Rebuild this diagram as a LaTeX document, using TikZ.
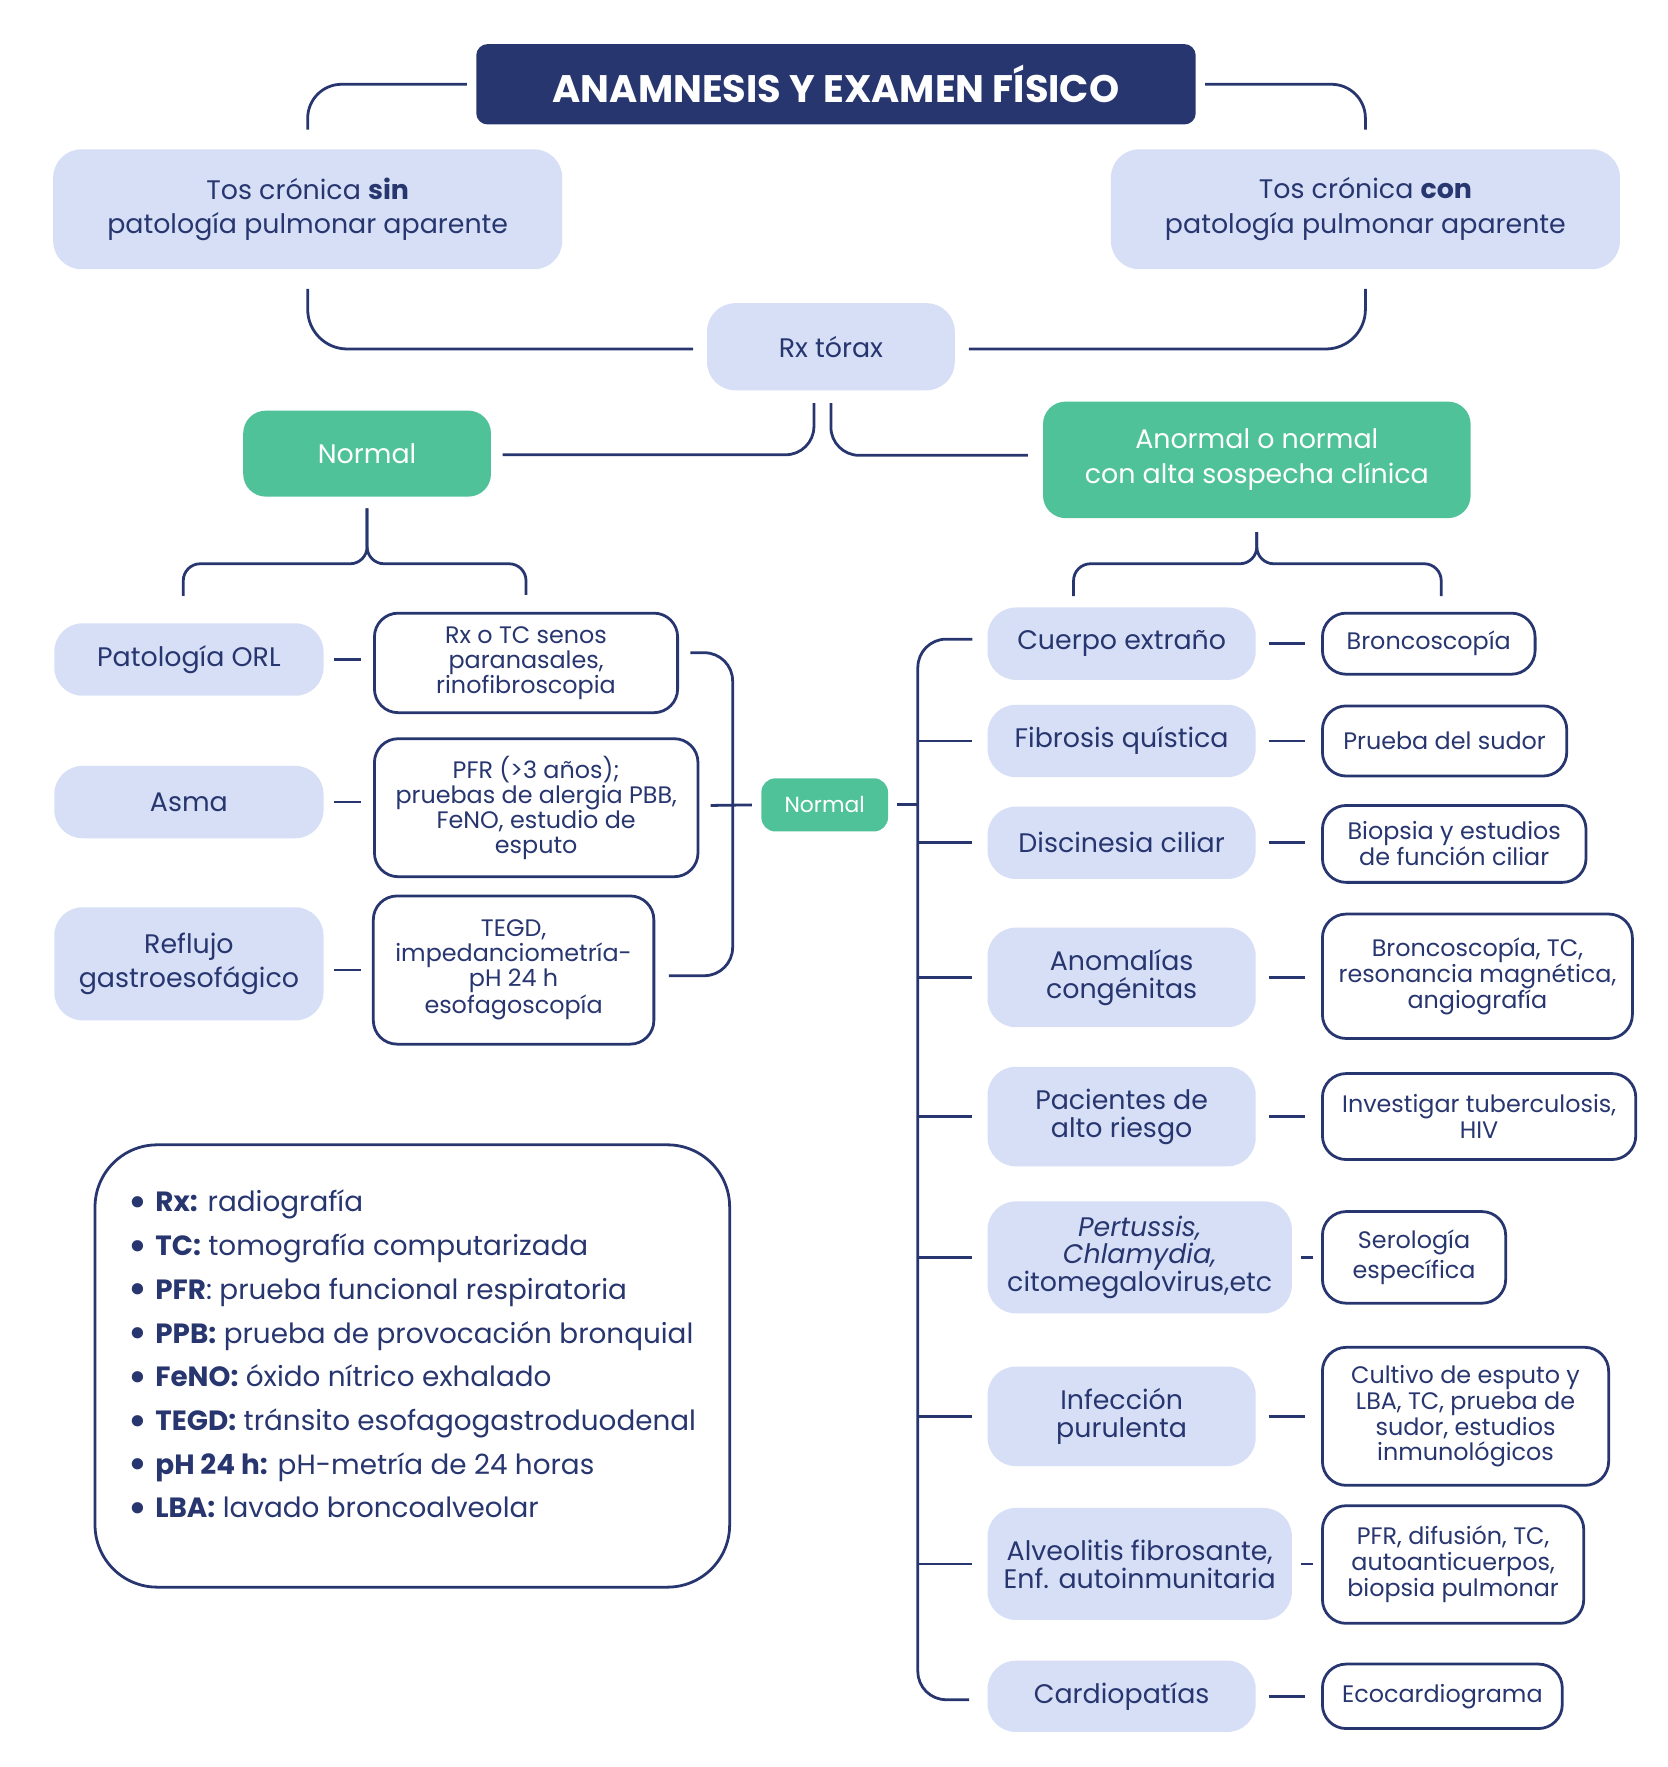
\documentclass[tikz,border=0pt]{standalone}
\usepackage{fontspec}
\setmainfont{Poppins}
\usetikzlibrary{calc}
\definecolor{navy}{RGB}{40,54,112}
\definecolor{lblue}{RGB}{214,223,246}
\definecolor{mgreen}{RGB}{79,194,154}
\newcommand{\mybox}[7]{\node[#6, minimum width={(#4-#2)*0.02cm}, minimum height={(#5-#3)*0.02cm}] (#1) at ({(#2+#4)/2},{(#3+#5)/2}) {#7};}
\newcommand{\lbul}{{\fontsize{23}{22}\selectfont\raisebox{-2.8pt}{\textbullet}}\hspace{4pt}}
\tikzset{
  lb/.style={fill=lblue, rounded corners=0.5cm, text=navy, align=center, inner sep=0pt, font=\fontsize{13.5}{17.5}\selectfont},
  rb/.style={lb, font=\fontsize{13.5}{14}\selectfont},
  wb/.style={draw=navy, line width=1.4pt, fill=white, rounded corners=0.42cm, text=navy, align=center, inner sep=0pt, font=\fontsize{12}{12.5}\selectfont},
  wbr/.style={wb, font=\fontsize{12}{13}\selectfont},
  gb/.style={fill=mgreen, rounded corners=0.4cm, text=white, align=center, inner sep=0pt, font=\fontsize{13.5}{17.5}\selectfont},
  gbs/.style={gb, rounded corners=0.25cm, font=\fontsize{11}{13}\selectfont},
  tb/.style={fill=navy, rounded corners=0.2cm, text=white, inner sep=0pt, font=\fontsize{19.3}{22}\selectfont\bfseries},
  legbox/.style={draw=navy, line width=1.4pt, rounded corners=1.1cm, text=navy, align=left, inner sep=0pt, font=\fontsize{14}{22}\selectfont},
  ln/.style={draw=navy, line width=1.4pt}
}
\begin{document}
\begin{tikzpicture}[x=0.02cm, y={(0cm,-0.02cm)}]
\useasboundingbox[fill=white] (0,0) rectangle (1474,1562);
% nodes
\mybox{title}{421}{39}{1057}{110}{tb}{ANAMNESIS Y EXAMEN FÍSICO}
\mybox{lsin}{47}{132}{497}{238}{lb}{Tos crónica \textbf{sin}\\patología pulmonar aparente}
\mybox{rcon}{982}{132}{1432}{238}{lb}{Tos crónica \textbf{con}\\patología pulmonar aparente}
\mybox{rx}{625}{268}{844}{345}{lb}{Rx tórax}
\mybox{normal}{215}{363}{434}{439}{gb}{Normal}
\mybox{anormal}{922}{355}{1300}{458}{gb}{Anormal o normal\\con alta sospecha clínica}
\mybox{orl}{48}{551}{286}{615}{lb}{Patología ORL}
\mybox{asma}{48}{677}{286}{741}{lb}{Asma}
\mybox{reflujo}{48}{802}{286}{902}{lb}{Reflujo\\gastroesofágico}
\mybox{rxtc}{331}{542}{599}{630}{wb}{Rx o TC senos\\paranasales,\\rinofibroscopia}
\mybox{pfr}{331}{653}{617}{775}{wb}{PFR (>3 años);\\pruebas de alergia PBB,\\FeNO, estudio de\\esputo}
\mybox{tegd}{330}{792}{578}{923}{wb}{TEGD,\\impedanciometría-\\pH 24 h\\esofagoscopía}
\mybox{nsmall}{673}{688}{785}{735}{gbs}{Normal}
\mybox{cuerpo}{873}{537}{1110}{601}{rb}{Cuerpo extraño}
\mybox{fib}{873}{623}{1110}{687}{rb}{Fibrosis quística}
\mybox{disc}{873}{713}{1110}{777}{rb}{Discinesia ciliar}
\mybox{anom}{873}{820}{1110}{908}{rb}{Anomalías\\congénitas}
\mybox{pac}{873}{943}{1110}{1031}{rb}{Pacientes de\\alto riesgo}
\mybox{pert}{873}{1062}{1142}{1161}{rb}{\textit{Pertussis,}\\\textit{Chlamydia,}\\citomegalovirus,etc}
\mybox{inf}{873}{1208}{1110}{1296}{rb}{Infección\\purulenta}
\mybox{alv}{873}{1333}{1142}{1432}{rb}{Alveolitis fibrosante,\\Enf. autoinmunitaria}
\mybox{card}{873}{1468}{1110}{1531}{rb}{Cardiopatías}
\mybox{bronc}{1169}{542}{1357}{596}{wbr}{Broncoscopía}
\mybox{sudor}{1169}{624}{1385}{686}{wbr}{Prueba del sudor}
\mybox{biop}{1169}{712}{1402}{780}{wbr}{Biopsia y estudios\\de función ciliar}
\mybox{bronc2}{1169}{808}{1443}{918}{wbr}{Broncoscopía, TC,\\resonancia magnética,\\angiografía}
\mybox{tbc}{1169}{949}{1446}{1025}{wbr}{Investigar tuberculosis,\\HIV}
\mybox{sero}{1169}{1071}{1331}{1152}{wbr,font=\fontsize{12}{15}\selectfont}{Serología\\específica}
\mybox{cult}{1169}{1191}{1422}{1313}{wbr}{Cultivo de esputo y\\LBA, TC, prueba de\\sudor, estudios\\inmunológicos}
\mybox{pfr2}{1169}{1331}{1400}{1435}{wbr}{PFR, difusión, TC,\\autoanticuerpos,\\biopsia pulmonar}
\mybox{eco}{1169}{1471}{1381}{1528}{wbr}{Ecocardiograma}
\mybox{legend}{84}{1012}{645}{1403}{legbox}{%
\lbul\textbf{Rx:} radiografía\\
\lbul\textbf{TC:} tomografía computarizada\\
\lbul\textbf{PFR}: prueba funcional respiratoria\\
\lbul\textbf{PPB:} prueba de provocación bronquial\\
\lbul\textbf{FeNO:} óxido nítrico exhalado\\
\lbul\textbf{TEGD:} tránsito esofagogastroduodenal\\
\lbul\textbf{pH 24 h:} pH-metría de 24 horas\\
\lbul\textbf{LBA:} lavado broncoalveolar\\[-10pt]\mbox{}}
% connectors top
\draw[ln, rounded corners=0.6cm] ($(title.west)+(-8,0)$) -| ($(lsin.north)+(0,-17)$);
\draw[ln, rounded corners=0.6cm] ($(title.east)+(8,0)$) -| ($(rcon.north)+(0,-17)$);
\draw[ln, rounded corners=0.7cm] ($(lsin.south)+(0,17)$) |- ($(rx.west)+(-12,2)$);
\draw[ln, rounded corners=0.7cm] ($(rcon.south)+(0,17)$) |- ($(rx.east)+(12,2)$);
\draw[ln, rounded corners=0.5cm] ($(rx.south)+(-15,11)$) |- ($(normal.east)+(10,1)$);
\draw[ln, rounded corners=0.5cm] ($(rx.south)+(0,11)$) |- ($(anormal.west)+(-13,-4)$);
% braces
\coordinate (bl) at (949,527);
\coordinate (br) at (1274,527);
\draw[ln, rounded corners=0.3cm] ($(orl.north)+(-5,-24)$) |- ($(normal.south)+(0,59)$) -- ($(normal.south)+(0,10)$);
\draw[ln, rounded corners=0.3cm] ($(rxtc.north)+(0,-15)$) |- ($(normal.south)+(0,59)$) -- ($(normal.south)+(0,10)$);
\draw[ln, rounded corners=0.3cm] (bl) |- ($(anormal.south)+(0,40)$) -- ($(anormal.south)+(0,12)$);
\draw[ln, rounded corners=0.3cm] (br) |- ($(anormal.south)+(0,40)$) -- ($(anormal.south)+(0,12)$);
% left dashes
\draw[ln] ($(orl.east)+(9,0)$) -- ($(orl.east -| rxtc.west)+(-11,0)$);
\draw[ln] ($(asma.east)+(9,0)$) -- ($(asma.east -| pfr.west)+(-11,0)$);
\draw[ln] ($(tegd.west -| reflujo.east)+(9,0)$) -- ($(tegd.west)+(-10,0)$);
% middle bracket
\coordinate (bx) at ($(nsmall.west)+(-25,0)$);
\draw[ln, rounded corners=0.5cm] ($(rxtc.east)+(10,-9)$) -| (bx) |- ($(tegd.east)+(12,5)$);
\draw[ln] ($(pfr.east)+(10,-2)$) -- ($(nsmall.west)+(-8,0)$);
% trunk
\coordinate (tk) at ($(nsmall.east)+(26,0)$);
\draw[ln] ($(nsmall.east)+(8,0)$) -- (tk);
\draw[ln, rounded corners=0.5cm] ($(cuerpo.west)+(-13,-4)$) -| (tk) |- ($(card.west)+(-16,3)$);
\foreach \n in {fib,disc,anom,pac,pert,inf,alv}{
  \draw[ln] (\n.west -| tk) -- ($(\n.west)+(-13,0)$);
}
% right dashes
\foreach \a/\b in {cuerpo/bronc,fib/sudor,disc/biop,anom/bronc2,pac/tbc,inf/cult,card/eco}{
  \draw[ln] ($(\a.east)+(11,0)$) -- ($(\a.east -| \b.west)+(-14,0)$);
}
\foreach \a/\b in {pert/sero,alv/pfr2}{
  \draw[ln] ($(\a.east)+(8,0)$) -- ($(\a.east -| \b.west)+(-7,0)$);
}
\end{tikzpicture}
\end{document}
